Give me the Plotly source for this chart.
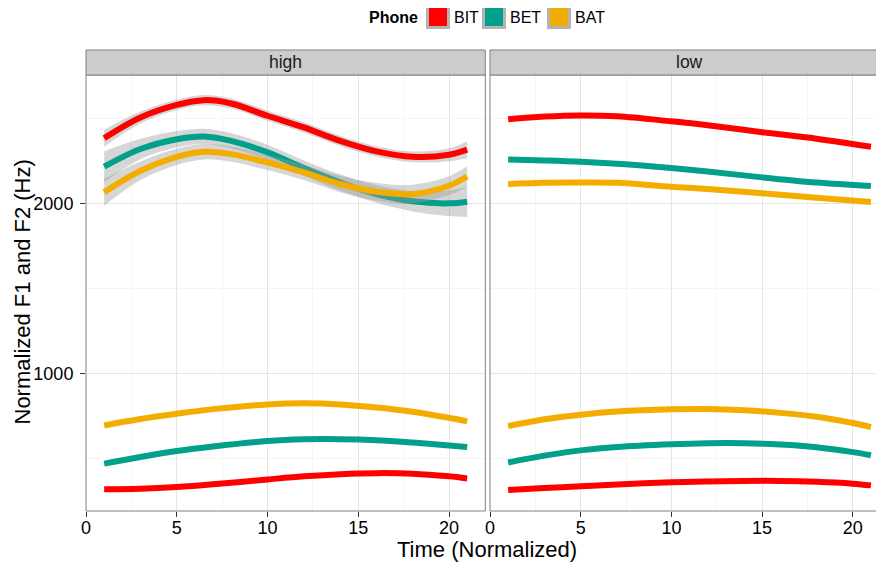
import plotly.graph_objects as go

# ---------------- data ----------------
phones = ["BIT", "BET", "BAT"]
colors = {"BIT": "#FF0000", "BET": "#00A08A", "BAT": "#F2AD00"}

# high panel, F2 (with confidence ribbons)
t_high_f2 = [1, 3, 5, 6.5, 8, 10, 12, 14, 16, 18, 20, 21]
high_f2 = {
    "BIT": [2386, 2508, 2582, 2610, 2590, 2518, 2449, 2370, 2308, 2276, 2288, 2318],
    "BET": [2218, 2322, 2380, 2396, 2370, 2302, 2210, 2125, 2057, 2014, 2002, 2012],
    "BAT": [2067, 2194, 2276, 2306, 2292, 2243, 2184, 2116, 2070, 2057, 2106, 2160],
}
high_f2_se = {
    "BIT": [50, 35, 30, 30, 30, 30, 30, 30, 30, 32, 38, 50],
    "BET": [90, 60, 48, 45, 45, 45, 45, 48, 52, 60, 75, 90],
    "BAT": [80, 55, 48, 45, 45, 45, 45, 48, 52, 55, 55, 60],
}

# high panel, F1
t_f1 = [1, 3, 5, 7, 10, 12, 14, 16, 18, 20, 21]
high_f1 = {
    "BIT": [318, 321, 331, 347, 376, 394, 407, 413, 410, 394, 382],
    "BET": [469, 508, 543, 570, 602, 612, 613, 607, 593, 576, 567],
    "BAT": [694, 732, 763, 790, 818, 824, 818, 800, 775, 739, 718],
}

# low panel, F2
t_low_f2 = [1, 3, 5, 7, 10, 12, 15, 18, 21]
low_f2 = {
    "BIT": [2498, 2513, 2520, 2515, 2485, 2462, 2421, 2383, 2335],
    "BET": [2261, 2255, 2247, 2235, 2210, 2190, 2155, 2125, 2104],
    "BAT": [2116, 2123, 2125, 2123, 2100, 2087, 2061, 2035, 2010],
}

# low panel, F1
low_f1 = {
    "BIT": [314, 325, 336, 346, 359, 364, 367, 367, 362, 351, 341],
    "BET": [476, 516, 547, 567, 583, 589, 589, 582, 566, 537, 518],
    "BAT": [690, 730, 757, 776, 789, 791, 784, 768, 745, 708, 684],
}

facets = ["high", "low"]
x_ticks = [0, 5, 10, 15, 20]
y_ticks = [1000, 2000]

# ---------------- figure ----------------
# the page body has an 8px margin, so the figure is placed at (8, 8)
OFF = 8
W, H = 884 - OFF, 563 - OFF
ML, MR, MT, MB = 86 - OFF, 0, 75 - OFF, 52
PW, PH = 884 - 86, 511 - 75
FONT = "Liberation Sans, Arial, Helvetica, sans-serif"
LW = 6
TICKFONT = dict(family=FONT, size=18, color="#000000")


def px(x):
    return (x - 86) / PW


def py(y):
    return (511 - y) / PH


fig = go.Figure()

# high panel F2: ribbon + line per phone
for p in phones:
    lo = [v - s for v, s in zip(high_f2[p], high_f2_se[p])]
    hi = [v + s for v, s in zip(high_f2[p], high_f2_se[p])]
    fig.add_trace(go.Scatter(x=t_high_f2, y=lo, mode="lines", line=dict(width=0, shape="spline"),
                             hoverinfo="skip", showlegend=False, xaxis="x", yaxis="y"))
    fig.add_trace(go.Scatter(x=t_high_f2, y=hi, mode="lines", line=dict(width=0, shape="spline"),
                             fill="tonexty", fillcolor="rgba(153,153,153,0.4)",
                             hoverinfo="skip", showlegend=False, xaxis="x", yaxis="y"))
    fig.add_trace(go.Scatter(x=t_high_f2, y=high_f2[p], mode="lines", name=p,
                             line=dict(color=colors[p], width=LW, shape="spline"),
                             showlegend=False, xaxis="x", yaxis="y"))

for p in phones:
    fig.add_trace(go.Scatter(x=t_f1, y=high_f1[p], mode="lines", name=p,
                             line=dict(color=colors[p], width=LW, shape="spline"),
                             showlegend=False, xaxis="x", yaxis="y"))
    fig.add_trace(go.Scatter(x=t_low_f2, y=low_f2[p], mode="lines", name=p,
                             line=dict(color=colors[p], width=LW, shape="spline"),
                             showlegend=False, xaxis="x2", yaxis="y2"))
    fig.add_trace(go.Scatter(x=t_f1, y=low_f1[p], mode="lines", name=p,
                             line=dict(color=colors[p], width=LW, shape="spline"),
                             showlegend=False, xaxis="x2", yaxis="y2"))

d1_end = px(485.3)
d2_start = px(490)

axis_common = dict(
    tickvals=x_ticks, ticks="outside", ticklen=5, tickcolor="#333333", tickwidth=1,
    showgrid=True, gridcolor="#E5E5E5", gridwidth=1, zeroline=False, showline=False,
    tickfont=TICKFONT, ticklabelstandoff=-5,
    minor=dict(tick0=0, dtick=2.5, showgrid=True, gridcolor="#F5F5F5", ticks=""),
)
yaxis_common = dict(
    tickvals=y_ticks, range=[190, 2758], showgrid=True, gridcolor="#E5E5E5", gridwidth=1,
    zeroline=False, showline=False,
    minor=dict(tick0=0, dtick=500, showgrid=True, gridcolor="#F5F5F5", ticks=""),
)

fig.update_layout(
    width=W, height=H,
    margin=dict(l=ML, r=MR, t=MT, b=MB, pad=0),
    paper_bgcolor="white", plot_bgcolor="white",
    font=dict(family=FONT, color="#000000"),
    xaxis=dict(domain=[0, d1_end], range=[0, 22], anchor="y", **axis_common),
    xaxis2=dict(domain=[d2_start, 1], range=[0, 21.72], anchor="y2", **axis_common),
    yaxis=dict(domain=[0, 1], anchor="x", ticks="outside", ticklen=5, tickcolor="#333333",
               tickfont=TICKFONT, ticklabelstandoff=3, **yaxis_common),
    yaxis2=dict(domain=[0, 1], anchor="x2", matches="y", showticklabels=False, ticks="",
                **yaxis_common),
    showlegend=False,
)

shapes = []
annotations = []
# panel borders and strips
for xr, label in [("x domain", facets[0]), ("x2 domain", facets[1])]:
    x1 = 1 if xr == "x domain" else 1.03
    yr = "y domain" if xr == "x domain" else "y2 domain"
    shapes.append(dict(type="rect", xref=xr, yref=yr, x0=0, x1=x1, y0=0, y1=1,
                       line=dict(color="#808080", width=1), fillcolor="rgba(0,0,0,0)", layer="above"))
    shapes.append(dict(type="rect", xref=xr, yref="paper", x0=0, x1=x1, y0=1.0, y1=py(50),
                       line=dict(color="#808080", width=1), fillcolor="#CCCCCC", layer="above"))
annotations.append(dict(text=facets[0], xref="x domain", yref="paper", x=0.5, y=(1 + py(50)) / 2,
                        showarrow=False, xanchor="center", yanchor="middle",
                        font=dict(family=FONT, size=17.5, color="#1A1A1A")))
annotations.append(dict(text=facets[1], xref="paper", yref="paper", x=px(689.5), y=(1 + py(50)) / 2,
                        showarrow=False, xanchor="center", yanchor="middle",
                        font=dict(family=FONT, size=17.5, color="#1A1A1A")))

# axis titles
annotations.append(dict(text="Time (Normalized)", xref="paper", yref="paper", x=px(487), y=py(549),
                        showarrow=False, xanchor="center", yanchor="middle",
                        font=dict(family=FONT, size=22, color="#000000")))
annotations.append(dict(text="Normalized F1 and F2 (Hz)", xref="paper", yref="paper", x=px(22),
                        y=py(292.5), textangle=-90, showarrow=False, xanchor="center",
                        yanchor="middle", font=dict(family=FONT, size=22, color="#000000")))

# legend (manual keys)
ly0, ly1 = 5, 29
annotations.append(dict(text="<b>Phone</b>", xref="paper", yref="paper", x=px(367), y=py(17.5),
                        showarrow=False, xanchor="left", yanchor="middle",
                        font=dict(family=FONT, size=16, color="#000000")))
key_x = {"BIT": 426, "BET": 482, "BAT": 547}
for p in phones:
    kx = key_x[p]
    shapes.append(dict(type="rect", xref="paper", yref="paper", x0=px(kx), x1=px(kx + 24),
                       y0=py(ly1), y1=py(ly0), line=dict(width=0), fillcolor="#B3B3B3"))
    shapes.append(dict(type="rect", xref="paper", yref="paper", x0=px(kx + 3), x1=px(kx + 21),
                       y0=py(ly1 - 3), y1=py(ly0 + 3), line=dict(width=0), fillcolor=colors[p]))
    annotations.append(dict(text=p, xref="paper", yref="paper", x=px(kx + 26), y=py(17.5),
                            showarrow=False, xanchor="left", yanchor="middle",
                            font=dict(family=FONT, size=16, color="#000000")))

fig.update_layout(shapes=shapes, annotations=annotations)
fig.write_html("out.html")
